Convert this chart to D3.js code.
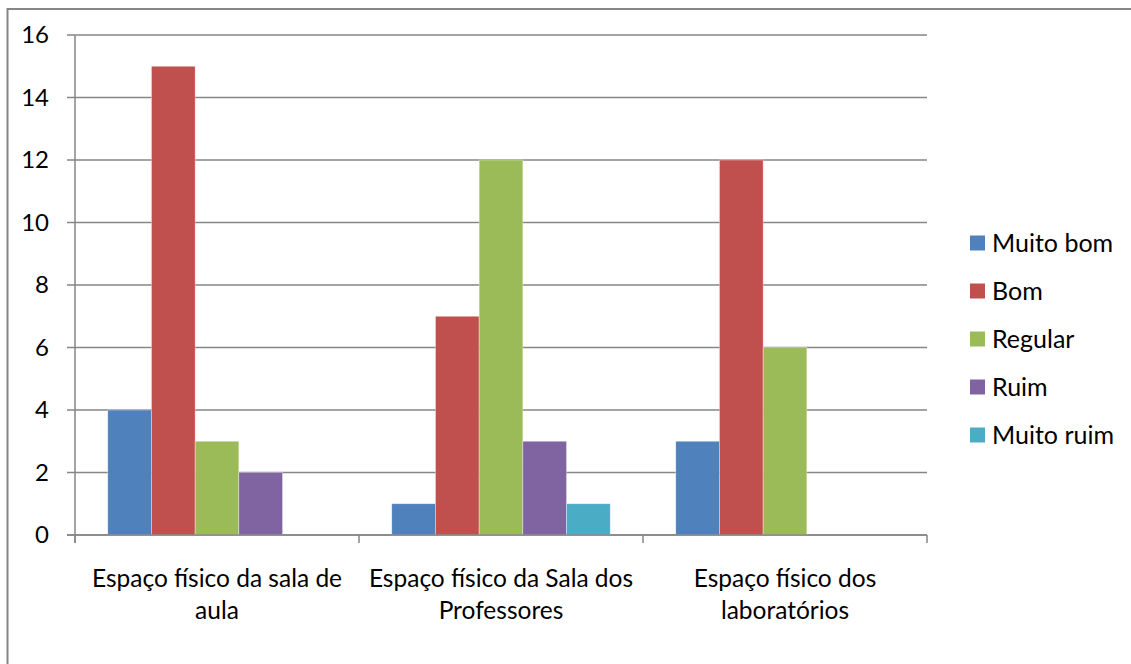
<!DOCTYPE html>
<html><head><meta charset="utf-8">
<script src="https://cdn.jsdelivr.net/npm/d3@7"></script>
<style>html,body{margin:0;padding:0;background:#fff;} svg{display:block;} text{font-family:Lato, "Liberation Sans", sans-serif;fill:#000;}</style>
</head><body>
<svg id="c" width="1131" height="664"></svg>
<script>
const categories = [["Espaço físico da sala de","aula"],["Espaço físico da Sala dos","Professores"],["Espaço físico dos","laboratórios"]];
const seriesNames = ["Muito bom","Bom","Regular","Ruim","Muito ruim"];
const seriesColors = ["#4F81BD","#C0504D","#9BBB59","#8064A2","#4BACC6"];
const muitoBom = [4,1,3];
const bom = [15,7,12];
const regular = [3,12,6];
const ruim = [2,3,0];
const muitoRuim = [0,1,0];
const yTicks = [0,2,4,6,8,10,12,14,16];

(function(){
const values = [muitoBom,bom,regular,ruim,muitoRuim];
const svg = d3.select("#c");
const pL=75, pR=927, pT=35, pB=535;
const x0 = d3.scaleBand().domain(d3.range(categories.length)).range([pL,pR]).paddingInner(0).paddingOuter(0);
const bw = x0.bandwidth();
const x1 = d3.scaleBand().domain(d3.range(seriesNames.length)).range([0,bw]).paddingInner(0).paddingOuter(0.75);
const y = d3.scaleLinear().domain([0,16]).range([pB,pT]);
const grey="#868686";

svg.append("path").attr("d",`M7.5,664 L7.5,9 L1131,9`).attr("fill","none").attr("stroke",grey).attr("stroke-width",2);

svg.append("g").selectAll("line").data(yTicks).join("line")
  .attr("x1",67).attr("x2",pR).attr("y1",d=>y(d)).attr("y2",d=>y(d))
  .attr("stroke",grey).attr("stroke-width",1.5);

categories.forEach((c,ci)=>{
  values.forEach((s,si)=>{
    if(s[ci]>0){
      svg.append("rect").attr("x",x0(ci)+x1(si)).attr("width",x1.bandwidth())
        .attr("y",y(s[ci])).attr("height",y(0)-y(s[ci]))
        .attr("fill",seriesColors[si]).attr("stroke","rgba(255,255,255,0.5)").attr("stroke-width",0.7);
    }
  });
});

svg.append("line").attr("x1",pL).attr("x2",pL).attr("y1",pT).attr("y2",543).attr("stroke",grey).attr("stroke-width",1.5);
svg.append("line").attr("x1",67).attr("x2",pR).attr("y1",pB).attr("y2",pB).attr("stroke",grey).attr("stroke-width",1.5);
d3.range(categories.length+1).forEach(i=>{
  const xx = pL + i*bw;
  svg.append("line").attr("x1",xx).attr("x2",xx).attr("y1",pB).attr("y2",543).attr("stroke",grey).attr("stroke-width",1.5);
});

svg.append("g").selectAll("text").data(yTicks).join("text")
  .attr("x",49).attr("y",d=>y(d)+8).attr("text-anchor","end")
  .style("font-size","24px").text(d=>d);

categories.forEach((c,ci)=>{
  const cx = x0(ci)+bw/2;
  c.forEach((line,li)=>{
    svg.append("text").attr("x",cx).attr("y",587+li*32).attr("text-anchor","middle")
      .style("font-size","24.5px").text(line);
  });
});

seriesNames.forEach((n,i)=>{
  const cy = 243 + i*48;
  svg.append("rect").attr("x",970).attr("y",cy-7.5).attr("width",15).attr("height",15).attr("fill",seriesColors[i]);
  svg.append("text").attr("x",992).attr("y",cy+8.5).style("font-size","25px").text(n);
});
})();
</script>
</body></html>
